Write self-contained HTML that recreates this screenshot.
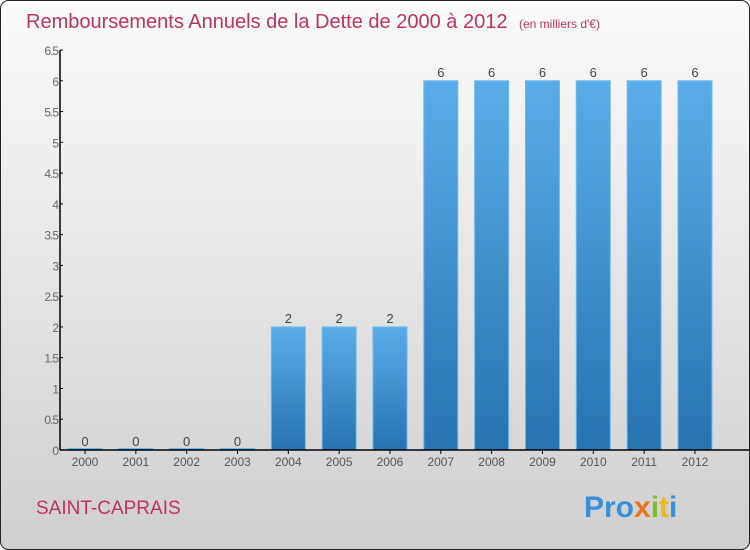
<!DOCTYPE html>
<html><head><meta charset="utf-8"><style>
body{margin:0}
#c{position:relative;width:750px;height:550px;overflow:hidden}
svg{display:block}
</style></head><body>
<div id="c">
<svg id="s" width="750" height="550" font-family="Liberation Sans, sans-serif">
<defs>
<linearGradient id="bg" x1="0" y1="0" x2="0" y2="1"><stop offset="0" stop-color="#fbfbfb"/><stop offset="1" stop-color="#cfcfcf"/></linearGradient>
<linearGradient id="bar" x1="0" y1="0" x2="0" y2="1"><stop offset="0" stop-color="#5aade8"/><stop offset="1" stop-color="#2673b0"/></linearGradient>
</defs>
<rect x="0.5" y="0.5" width="749" height="549" rx="8" fill="url(#bg)" stroke="#222"/>
<text x="26" y="28" font-size="20" fill="#c0325e">Remboursements Annuels de la Dette de 2000 à 2012 <tspan font-size="12" dx="6">(en milliers d'€)</tspan></text>
<g id="plot"></g>
<text x="36" y="514" font-size="19" fill="#c0325e">SAINT-CAPRAIS</text>
<g font-size="30" font-weight="bold">
<text x="584" y="517"><tspan fill="#3a8fd8">Pro</tspan><tspan fill="#e8731e">x</tspan><tspan fill="#7bbd2a">i</tspan><tspan fill="#e8b81e">t</tspan><tspan fill="#3a8fd8">i</tspan></text>
</g>
</svg>
</div>
<script>
const categories=['2000','2001','2002','2003','2004','2005','2006','2007','2008','2009','2010','2011','2012'];
const values=[0,0,0,0,2,2,2,6,6,6,6,6,6];
const yTicks=[0,0.5,1,1.5,2,2.5,3,3.5,4,4.5,5,5.5,6,6.5];
const yTickLabels=['0','0.5','1','1.5','2','2.5','3','3.5','4','4.5','5','5.5','6','6.5'];
const NS='http://www.w3.org/2000/svg';
const g=document.getElementById('plot');
const x0=60,y0=450,yMax=6.5,ph=400,step=50.83,bw=34;
const y=v=>y0-v/yMax*ph;
const x=i=>85+i*step;
function mk(t,a){const e=document.createElementNS(NS,t);for(const k in a)e.setAttribute(k,a[k]);g.appendChild(e);return e;}
categories.forEach((c,i)=>{
  const h=Math.max(values[i]/yMax*ph,1.5);
  const r=mk('rect',{x:x(i)-bw/2,y:y0-h,width:bw,height:h,fill:'url(#bar)',stroke:'#6fb8ec','stroke-width':1});
  
  
  const v=mk('text',{x:x(i),y:y(values[i])-4,'font-size':13,'text-anchor':'middle',fill:'#444'});
  v.textContent=values[i];
  
  
  const t=mk('text',{x:x(i),y:y0+16,'font-size':12,'text-anchor':'middle',fill:'#555'});
  t.textContent=c;
  
  
  const tk=mk('line',{x1:x(i),x2:x(i),y1:y0,y2:y0+4,stroke:'#000'});
  
  
});
yTicks.forEach((v,i)=>{
  const l=mk('line',{x1:x0,x2:x0+3,y1:y(v),y2:y(v),stroke:'#000'});
  
  
  const t=mk('text',{x:x0-2,y:y(v)+5,'font-size':12,'text-anchor':'end',fill:'#666','letter-spacing':'-1'});
  t.textContent=yTickLabels[i];
  
  
});
const ya=mk('line',{x1:x0,x2:x0,y1:y(yMax),y2:y0,stroke:'#000','stroke-width':1.5});


const xa=mk('line',{x1:x0,x2:749,y1:y0,y2:y0,stroke:'#000','stroke-width':1.5});


</script>
</body></html>
